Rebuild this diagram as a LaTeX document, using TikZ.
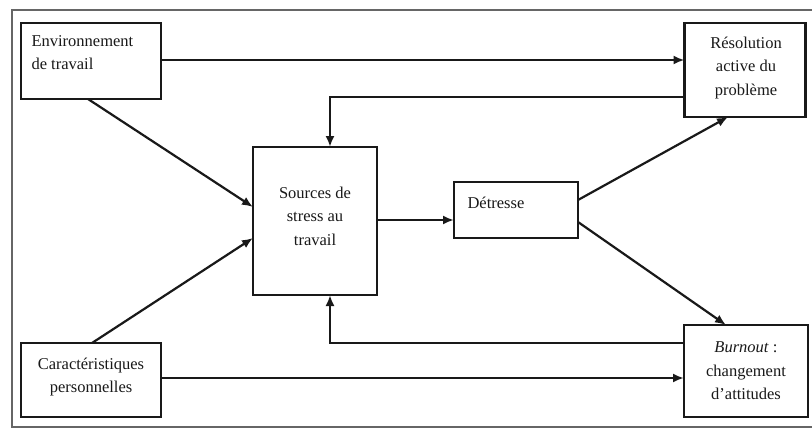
\documentclass[tikz,border=0pt]{standalone}
\usepackage{fontspec}
\setmainfont{Liberation Serif}
\usetikzlibrary{arrows.meta}
\begin{document}
\begin{tikzpicture}[x=1pt,y=-1pt,
  box/.style={draw=black!90, line width=2.2pt, inner sep=0pt, outer sep=0pt},
  lbl/.style={font=\fontsize{16.5}{23.5}\selectfont, align=center, text=black!90},
  conn/.style={draw=black!90, line width=2.2pt, -{Latex[length=11pt,width=9pt]}}]
\useasboundingbox (0,0) rectangle (812,431);
\fill[white] (0,0) rectangle (812,431);
\draw[black!60, line width=1.4pt] (812,10) -- (12,10) -- (12,427) -- (812,427);
% boxes
\node[box, minimum width=140pt, minimum height=76pt] (env) at (91,61) {};
\node[lbl, align=left, anchor=north west] (envT) at (28,32) {Environnement\\de travail};
\node[box, minimum width=124pt, minimum height=148pt] (src) at (315,221) {};
\node[lbl] (srcT) at (315,216) {Sources de\\stress au\\travail};
\node[box, minimum width=124pt, minimum height=56pt] (det) at (516,210) {};
\node[lbl, anchor=west] (detT) at (464,203) {Détresse};
\node[box, minimum width=121pt, minimum height=94pt] (res) at (745,70) {};
\node[lbl] (resT) at (746,68) {Résolution\\active du\\problème};
\node[box, minimum width=124pt, minimum height=92pt] (bur) at (746,371) {};
\node[lbl] (burT) at (746,371) {\textit{Burnout} :\\changement\\d'attitudes};
\node[box, minimum width=140pt, minimum height=74pt] (car) at (91,380) {};
\node[lbl] (carT) at (91,377) {Caractéristiques\\personnelles};
% connectors
\draw[conn] (env.east |- 0,60) -- (res.west |- 0,60);
\draw[conn] (res.west |- 0,97) -- (330,97) -- (src.north -| 330,0);
\draw[conn] (88,99) -- (src.west |- 0,207);
\draw[conn] (92,343) -- (src.west |- 0,238);
\draw[conn] (src.east |- 0,220) -- (det.west |- 0,220);
\draw[conn] (det.east |- 0,200) -- (728,117);
\draw[conn] (det.east |- 0,222) -- (726,325);
\draw[conn] (bur.west |- 0,343) -- (330,343) -- (src.south -| 330,0);
\draw[conn] (car.east |- 0,378) -- (bur.west |- 0,378);
\end{tikzpicture}
\end{document}
